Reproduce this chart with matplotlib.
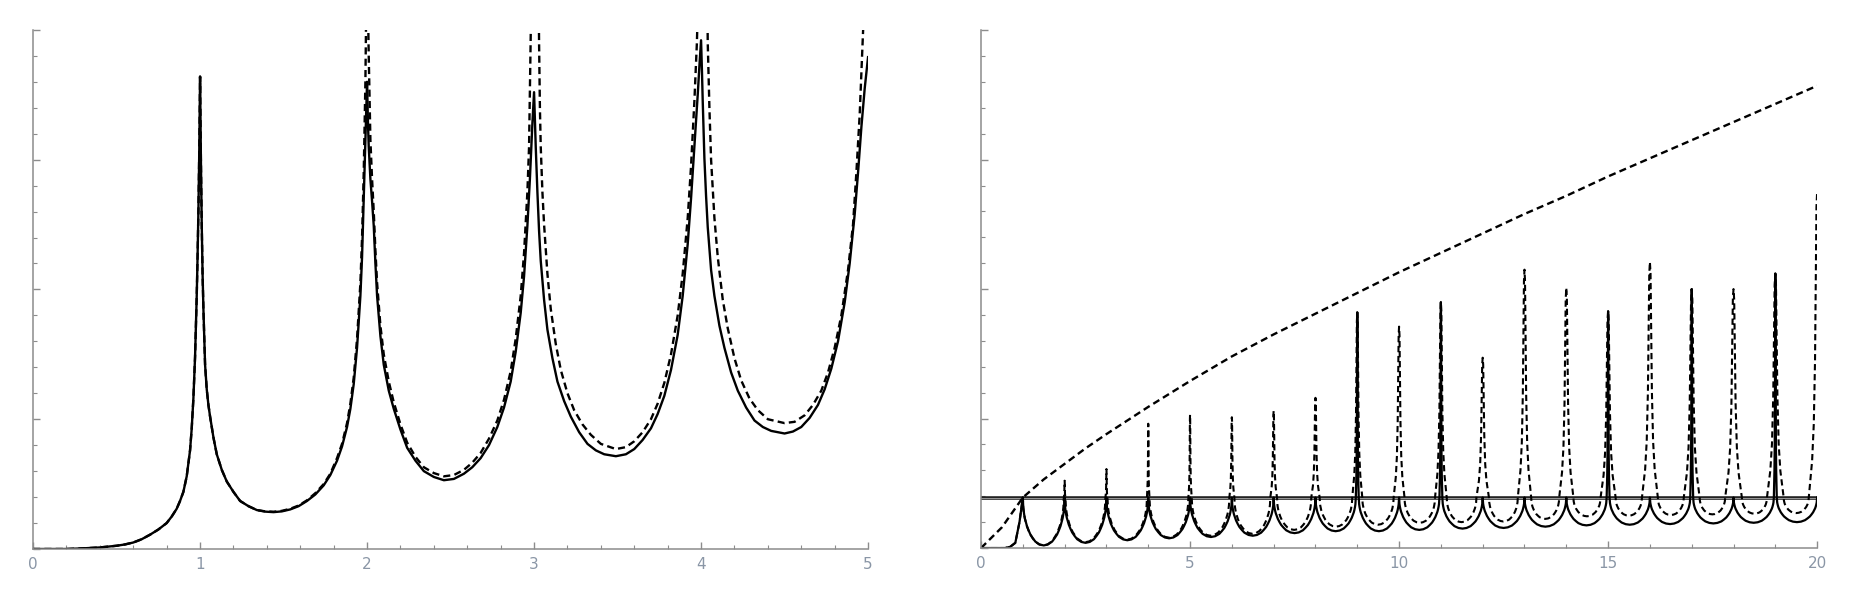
import matplotlib.pyplot as plt
from matplotlib.ticker import MultipleLocator

# ---- left panel, values ----
left_solid_x = [0.0, 0.2, 0.3, 0.4, 0.5, 0.55, 0.6, 0.65, 0.7, 0.75, 0.8, 0.83, 0.86, 0.88, 0.9,
                0.92, 0.94, 0.95, 0.96, 0.97, 0.98, 0.985, 0.99, 0.995, 1.0,
                1.005, 1.01, 1.015, 1.02, 1.03, 1.04, 1.05, 1.06, 1.08, 1.1, 1.13, 1.16, 1.2, 1.24,
                1.29, 1.34, 1.39, 1.44, 1.49, 1.54, 1.59, 1.64, 1.69, 1.74, 1.78, 1.82, 1.85, 1.88,
                1.9, 1.92, 1.94, 1.96, 1.97, 1.98, 1.99, 2.0,
                2.005, 2.01, 2.02, 2.03, 2.04, 2.05, 2.06, 2.08, 2.1, 2.13, 2.16, 2.2, 2.24, 2.29,
                2.34, 2.4, 2.46, 2.52, 2.58, 2.63, 2.68, 2.73, 2.78, 2.82, 2.86, 2.89, 2.92, 2.94,
                2.96, 2.975, 2.99, 3.0,
                3.005, 3.01, 3.02, 3.03, 3.04, 3.06, 3.08, 3.11, 3.14, 3.18, 3.22, 3.27, 3.32, 3.37,
                3.42, 3.49, 3.55, 3.6, 3.65, 3.7, 3.74, 3.78, 3.82, 3.86, 3.89, 3.92, 3.94, 3.96,
                3.98, 3.99, 4.0,
                4.005, 4.01, 4.02, 4.03, 4.04, 4.06, 4.08, 4.11, 4.14, 4.18, 4.22, 4.27, 4.32, 4.37,
                4.42, 4.5, 4.55, 4.6, 4.65, 4.7, 4.74, 4.78, 4.82, 4.86, 4.89, 4.92, 4.94, 4.96,
                4.98, 5.0]
left_solid_y = [0.0, 0.0, 0.005, 0.012, 0.025, 0.035, 0.05, 0.075, 0.11, 0.15, 0.2, 0.25, 0.31, 0.37, 0.44,
                0.56, 0.76, 0.93, 1.16, 1.48, 1.95, 2.25, 2.6, 3.05, 3.64,
                3.0, 2.5, 2.12, 1.85, 1.42, 1.23, 1.11, 1.02, 0.86, 0.73, 0.61, 0.52, 0.44, 0.37,
                0.33, 0.30, 0.288, 0.284, 0.29, 0.305, 0.33, 0.37, 0.42, 0.49, 0.57, 0.68, 0.79, 0.94,
                1.08, 1.27, 1.55, 1.95, 2.25, 2.7, 3.15, 3.6,
                3.3, 3.1, 2.85, 2.68, 2.49, 2.2, 1.95, 1.64, 1.42, 1.22, 1.08, 0.92, 0.78, 0.68,
                0.60, 0.555, 0.53, 0.54, 0.58, 0.63, 0.70, 0.80, 0.94, 1.09, 1.29, 1.52, 1.82, 2.1,
                2.49, 2.85, 3.28, 3.52,
                3.3, 3.1, 2.75, 2.45, 2.22, 1.92, 1.69, 1.47, 1.29, 1.14, 1.02, 0.90, 0.81, 0.76,
                0.73, 0.715, 0.73, 0.77, 0.84, 0.93, 1.04, 1.18, 1.38, 1.65, 1.95, 2.35, 2.7, 3.1,
                3.5, 3.72, 3.92,
                3.7, 3.45, 3.01, 2.72, 2.48, 2.15, 1.95, 1.72, 1.55, 1.36, 1.22, 1.09, 0.99, 0.94,
                0.91, 0.89, 0.905, 0.94, 1.01, 1.11, 1.23, 1.39, 1.6, 1.9, 2.2, 2.58, 2.9, 3.25,
                3.55, 3.79]

left_dash_x = [0.0, 0.2, 0.3, 0.4, 0.5, 0.55, 0.6, 0.65, 0.7, 0.75, 0.8, 0.83, 0.86, 0.88, 0.9,
               0.92, 0.94, 0.95, 0.96, 0.97, 0.98, 0.985, 0.99, 0.995, 1.0,
               1.005, 1.01, 1.015, 1.02, 1.03, 1.04, 1.05, 1.06, 1.08, 1.1, 1.13, 1.16, 1.2, 1.24,
               1.29, 1.34, 1.39, 1.44, 1.49, 1.54, 1.59, 1.64, 1.69, 1.74, 1.78, 1.82, 1.85, 1.88,
               1.9, 1.92, 1.94, 1.96, 1.97, 1.98, 1.99, 1.995, 2.0,
               2.005, 2.01, 2.02, 2.03, 2.04, 2.05, 2.06, 2.08, 2.1, 2.13, 2.16, 2.2, 2.24, 2.29,
               2.34, 2.4, 2.46, 2.52, 2.58, 2.63, 2.68, 2.73, 2.78, 2.82, 2.86, 2.89, 2.92, 2.94,
               2.96, 2.97, 2.98, 2.99, 3.025,
               3.03, 3.035, 3.04, 3.05, 3.06, 3.08, 3.1, 3.13, 3.16, 3.2, 3.24, 3.29, 3.34, 3.4,
               3.49, 3.55, 3.6, 3.65, 3.7, 3.74, 3.78, 3.82, 3.86, 3.89, 3.92, 3.94, 3.96, 3.975,
               3.99, 4.035,
               4.04, 4.05, 4.06, 4.08, 4.1, 4.13, 4.16, 4.2, 4.24, 4.29, 4.34, 4.4, 4.5, 4.56,
               4.62, 4.67, 4.72, 4.76, 4.8, 4.84, 4.88, 4.91, 4.93, 4.95, 4.97, 4.99]
left_dash_y = [0.0, 0.0, 0.005, 0.012, 0.025, 0.035, 0.05, 0.075, 0.11, 0.15, 0.2, 0.25, 0.31, 0.37, 0.44,
               0.56, 0.76, 0.93, 1.16, 1.48, 1.95, 2.25, 2.6, 3.05, 3.64,
               3.0, 2.5, 2.12, 1.85, 1.42, 1.23, 1.11, 1.02, 0.86, 0.73, 0.61, 0.52, 0.44, 0.37,
               0.33, 0.30, 0.29, 0.287, 0.294, 0.31, 0.335, 0.375, 0.43, 0.50, 0.58, 0.70, 0.81, 0.97,
               1.12, 1.32, 1.62, 2.05, 2.4, 2.9, 3.6, 4.2, 4.6,
               4.2, 3.8, 3.15, 2.85, 2.6, 2.3, 2.05, 1.72, 1.5, 1.29, 1.13, 0.96, 0.82, 0.71,
               0.63, 0.585, 0.56, 0.57, 0.61, 0.665, 0.74, 0.85, 0.99, 1.15, 1.37, 1.62, 1.95, 2.28,
               2.75, 3.1, 3.96, 4.6, 4.6,
               3.9, 3.4, 3.1, 2.75, 2.5, 2.12, 1.85, 1.58, 1.38, 1.2, 1.07, 0.96, 0.88, 0.81,
               0.77, 0.785, 0.83, 0.9, 1.0, 1.12, 1.28, 1.5, 1.8, 2.12, 2.55, 2.95, 3.45, 3.9,
               4.6, 4.6,
               3.9, 3.4, 3.0, 2.55, 2.25, 1.92, 1.7, 1.47, 1.3, 1.16, 1.07, 1.0, 0.97, 0.98,
               1.03, 1.11, 1.22, 1.36, 1.55, 1.8, 2.15, 2.5, 2.9, 3.35, 4.0, 4.6]

# ---- right panel ----
trend_x = [0, 0.5, 1, 1.5, 2, 2.5, 3, 4, 5, 6, 7, 8, 9, 10, 11, 12, 13, 14, 15, 16, 17, 18, 19, 20]
trend_y = [0, 0.16, 0.39, 0.53, 0.65, 0.77, 0.88, 1.09, 1.29, 1.48, 1.65, 1.81, 1.97, 2.13, 2.28,
           2.43, 2.58, 2.72, 2.87, 3.01, 3.15, 3.29, 3.43, 3.57]
level = 0.39

first_x = [0, 0.58, 0.7, 0.82, 0.92, 0.97, 1.0]
first_y = [0, 0, 0.01, 0.04, 0.2, 0.32, 0.39]

peak_h = [0.37, 0.52, 0.61, 0.96, 1.03, 1.01, 1.06, 1.16, 1.82, 1.71,
          1.90, 1.47, 2.15, 2.01, 1.83, 2.21, 2.00, 2.00, 2.12, 2.75]
peak_w = [0, 0.02, 0.025, 0.03, 0.04, 0.06, 0.08, 0.10, 0.12, 0.13,
          0.14, 0.15, 0.16, 0.17, 0.18, 0.19, 0.19, 0.20, 0.20, 0.20]
solid_peaks = [9, 11, 15, 17, 19]

solid_min = [0.02, 0.04, 0.06, 0.075, 0.085, 0.095, 0.115, 0.13, 0.13, 0.14,
             0.15, 0.155, 0.165, 0.175, 0.18, 0.185, 0.19, 0.195, 0.2]
dash_min = [0.02, 0.045, 0.065, 0.08, 0.095, 0.11, 0.14, 0.165, 0.18, 0.195,
            0.2, 0.205, 0.225, 0.245, 0.25, 0.255, 0.26, 0.265, 0.27]

# shape of one lobe and one peak flank, read from a single lobe
lobe_u = [0, 0.01, 0.02, 0.035, 0.05, 0.075, 0.1, 0.14, 0.18, 0.24, 0.3, 0.4, 0.5,
          0.6, 0.7, 0.76, 0.82, 0.86, 0.9, 0.925, 0.95, 0.965, 0.98, 0.99, 1]
lobe_f = [0, 0.2, 0.28, 0.37, 0.44, 0.52, 0.6, 0.69, 0.77, 0.85, 0.92, 0.98, 1,
          0.98, 0.92, 0.85, 0.77, 0.69, 0.6, 0.52, 0.44, 0.37, 0.28, 0.2, 0]
flank_r = [0, 0.08, 0.15, 0.25, 0.4, 0.6, 1.0]
flank_f = [1, 0.95, 0.75, 0.45, 0.24, 0.12, 0]


def build(mins, widths, heights):
    xs, ys = list(first_x), list(first_y)
    for i in range(19):
        n = i + 1
        wl, hl = widths[i], heights[i]
        wr, hr = widths[i + 1], heights[i + 1]
        if wl > 0:
            for r, f in zip(flank_r, flank_f):
                xs.append(n + r * wl)
                ys.append(level + (hl - level) * f)
        a, b = n + wl, n + 1 - wr
        for u, f in zip(lobe_u, lobe_f):
            xs.append(a + u * (b - a))
            ys.append(level - f * (level - mins[i]))
        if wr > 0:
            for r, f in zip(flank_r[::-1], flank_f[::-1]):
                xs.append(n + 1 - r * wr)
                ys.append(level + (hr - level) * f)
    return xs, ys


solid_w = [0.035 if n in solid_peaks else 0 for n in range(1, 21)]
rs_x, rs_y = build(solid_min, solid_w, peak_h)
rd_x, rd_y = build(dash_min, peak_w, peak_h)

AX = '#8c8c8c'
LAB = '#8a96a6'
DASH = (0, (3, 1.8))


def style(ax):
    for s in ['top', 'right']:
        ax.spines[s].set_visible(False)
    for s in ['left', 'bottom']:
        ax.spines[s].set_color(AX)
        ax.spines[s].set_linewidth(1.1)
    ax.tick_params(which='both', direction='in', color=AX, labelcolor=LAB, labelsize=11)
    ax.tick_params(which='major', length=5, width=1, pad=6)
    ax.tick_params(which='minor', length=3, width=0.8)
    ax.tick_params(axis='y', labelleft=False)
    ax.yaxis.set_major_locator(MultipleLocator(1))
    ax.yaxis.set_minor_locator(MultipleLocator(0.2))
    ax.set_ylim(0, 4)


fig = plt.figure(figsize=(18.58, 6.10), dpi=100, facecolor='white')

ax1 = fig.add_axes([0.0178, 0.100, 0.4494, 0.851])
ax1.plot(left_solid_x, left_solid_y, color='black', lw=1.7, solid_joinstyle='round')
ax1.plot(left_dash_x, left_dash_y, color='black', lw=1.7, linestyle=DASH)
ax1.set_xlim(0, 5)
ax1.xaxis.set_major_locator(MultipleLocator(1))
ax1.xaxis.set_minor_locator(MultipleLocator(0.2))
style(ax1)

ax2 = fig.add_axes([0.528, 0.1016, 0.450, 0.849])
ax2.axhline(level, color='#222222', lw=2.6)
ax2.axhline(level, color='#aaaaaa', lw=0.6)
ax2.plot(trend_x, trend_y, color='black', lw=1.7, linestyle=DASH)
ax2.plot(rs_x, rs_y, color='black', lw=1.6, solid_joinstyle='round')
ax2.plot(rd_x, rd_y, color='black', lw=1.5, linestyle=DASH)
ax2.set_xlim(0, 20)
ax2.xaxis.set_major_locator(MultipleLocator(5))
ax2.xaxis.set_minor_locator(MultipleLocator(1))
style(ax2)

fig.savefig('out.png', dpi=100)
